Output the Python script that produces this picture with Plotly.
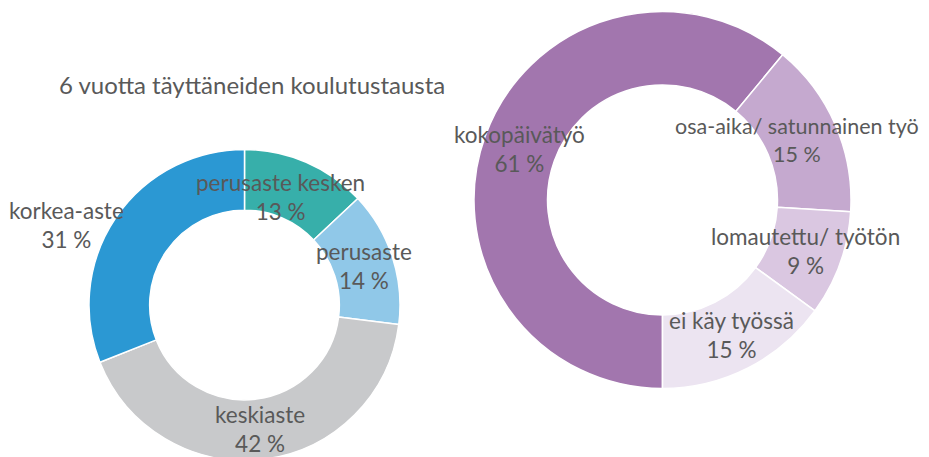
import math
import plotly.graph_objects as go

# ---- data ----
edu_labels = ["perusaste kesken", "perusaste", "keskiaste", "korkea-aste"]
edu_values = [13, 14, 42, 31]
work_labels = ["kokopäivätyö", "osa-aika/ satunnainen työ", "lomautettu/ työtön", "ei käy työssä"]
work_values = [61, 15, 9, 15]
title_text = "6 vuotta täyttäneiden koulutustausta"

# ---- style ----
OFF = 8  # page body margin
W, H = 929, 453
edu_colors = ["#37AFAA", "#90C8E8", "#C8C9CB", "#2B98D3"]
work_colors = ["#A276AE", "#C5A9CF", "#DAC7E1", "#ECE4F1"]
txt_color = "#595959"
FONT = "Lato"
FS = 22.5
TITLE_FS = 24
HOLE = 0.61

# positions in screen pixels
left = dict(cx=244.5, cy=305, r=155.5, rot=0)
right = dict(cx=662.5, cy=200, r=188.5, rot=180)
edu_offsets = [(-14, 7), (0, 0), (0, 0), (-74, -10)]
work_offsets = [(0, 0), (-5, 0), (0, 0), (0, 0)]
work_sizes = [FS, 21.5, FS, FS]
edu_sizes = [FS, FS, FS, FS]


def to_paper(px, py):
    return (px - OFF) / W, 1 - (py - OFF) / H


def domain(g):
    x0, y0 = to_paper(g["cx"] - g["r"], g["cy"] + g["r"])
    x1, y1 = to_paper(g["cx"] + g["r"], g["cy"] - g["r"])
    return dict(x=[max(0, x0), min(1, x1)], y=[max(0, y0), min(1, y1)])


fig = go.Figure()
for labels, values, colors, g in [
    (edu_labels, edu_values, edu_colors, left),
    (work_labels, work_values, work_colors, right),
]:
    fig.add_trace(go.Pie(
        labels=labels, values=values, hole=HOLE, sort=False,
        direction="clockwise", rotation=g["rot"],
        marker=dict(colors=colors, line=dict(color="white", width=1.5)),
        textinfo="none", hoverinfo="label+percent", showlegend=False,
        domain=domain(g),
    ))

annotations = []
for labels, values, g, offs, sizes in [
    (edu_labels, edu_values, left, edu_offsets, edu_sizes),
    (work_labels, work_values, right, work_offsets, work_sizes),
]:
    total = sum(values)
    rmid = g["r"] * (1 + HOLE) / 2
    cum = 0
    for lab, v, (ox, oy), fs in zip(labels, values, offs, sizes):
        mid = (cum + v / 2) / total * 360 + g["rot"]
        cum += v
        a = math.radians(mid)
        px = g["cx"] + rmid * math.sin(a) + ox
        py = g["cy"] - rmid * math.cos(a) + oy
        x, y = to_paper(px, py)
        annotations.append(dict(
            x=x, y=y, xref="paper", yref="paper",
            text=f"{lab}<br>{round(v / total * 100)} %", showarrow=False,
            xanchor="center", yanchor="middle",
            font=dict(family=FONT, size=fs, color=txt_color),
        ))

tx, ty = to_paper(252, 85)
annotations.append(dict(
    x=tx, y=ty, xref="paper", yref="paper", text=title_text,
    showarrow=False, xanchor="center", yanchor="middle",
    font=dict(family=FONT, size=TITLE_FS, color=txt_color),
))

fig.update_layout(
    width=W, height=H, margin=dict(l=0, r=0, t=0, b=0),
    paper_bgcolor="white", plot_bgcolor="white",
    annotations=annotations,
)
fig.write_html("out.html")
